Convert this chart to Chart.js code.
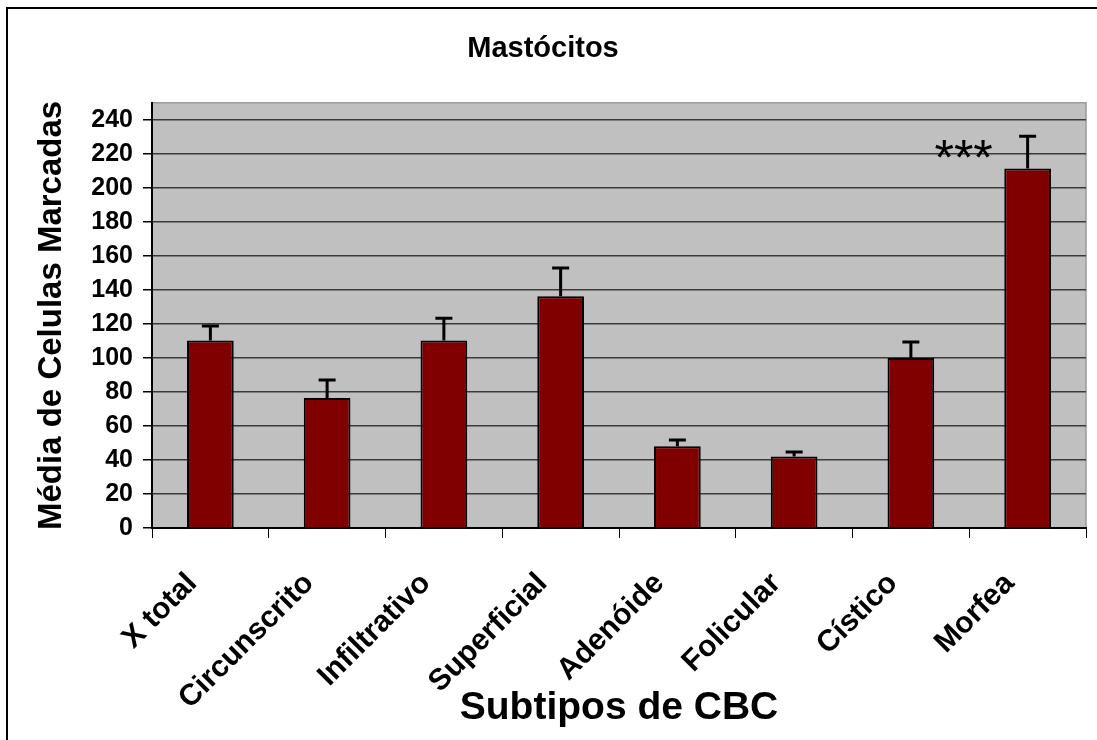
<!DOCTYPE html>
<html>
<head>
<meta charset="utf-8">
<script src="https://cdn.jsdelivr.net/npm/chart.js@4/dist/chart.umd.min.js"></script>
<style>
html,body{margin:0;padding:0;background:#fff;}
#wrap{width:1097px;height:740px;position:relative;}
</style>
</head>
<body>
<div id="wrap"><canvas id="mast-chart" width="1097" height="740"></canvas></div>
<script>
var categorias=['X total','Circunscrito','Infiltrativo','Superficial','Adenóide','Folicular','Cístico','Morfea'];
var medias=[110.3,76.4,110.3,136.2,48,42.1,99.9,211.4];
var erros=[8.5,10.6,13,16.6,3.7,2.6,9.4,19];
var yTicks=[0,20,40,60,80,100,120,140,160,180,200,220,240];
var titulo='Mastócitos';
var tituloY='Média de Celulas Marcadas';
var tituloX='Subtipos de CBC';
var marcaTexto='***';
var marcaIndice=7;

var fonte='"Liberation Sans", Arial, sans-serif';
Chart.defaults.font.family=fonte;
Chart.defaults.color='#000';

// fundo cinza da area do grafico + moldura externa
var fundo={
    id:'fundo',
    beforeDraw:function(chart)
    {
        let ctx=chart.ctx;
        let a=chart.chartArea;
        ctx.save();
        ctx.fillStyle='#fff';
        ctx.fillRect(0,0,chart.width,chart.height);
        ctx.strokeStyle='#000';
        ctx.lineWidth=2;
        ctx.beginPath();
        ctx.moveTo(7,chart.height);
        ctx.lineTo(7,8);
        ctx.lineTo(chart.width,8);
        ctx.stroke();
        ctx.fillStyle='#c0c0c0';
        ctx.fillRect(a.left,a.top,a.right-a.left,a.bottom-a.top);
        ctx.strokeStyle='#9a9a9a';
        ctx.lineWidth=1.5;
        ctx.strokeRect(a.left,a.top,a.right-a.left,a.bottom-a.top);
        ctx.restore();
    }
};

// barras de erro (so para cima) e os asteriscos
var barrasErro={
    id:'barrasErro',
    afterDatasetsDraw:function(chart)
    {
        let ctx=chart.ctx;
        let y=chart.scales.y;
        let meta=chart.getDatasetMeta(0);
        ctx.save();
        ctx.strokeStyle='#000';
        ctx.lineWidth=3;
        for(let i=0;i<meta.data.length;i++)
        {
            let bar=meta.data[i];
            let y0=y.getPixelForValue(medias[i]);
            let y1=y.getPixelForValue(medias[i]+erros[i]);
            ctx.beginPath();
            ctx.moveTo(bar.x,y0);
            ctx.lineTo(bar.x,y1);
            ctx.moveTo(bar.x-8.5,y1);
            ctx.lineTo(bar.x+8.5,y1);
            ctx.stroke();
        }
        let b=meta.data[marcaIndice];
        ctx.fillStyle='#000';
        ctx.font='50px '+fonte;
        ctx.textAlign='center';
        ctx.textBaseline='alphabetic';
        ctx.fillText(marcaTexto,b.x-64,b.y+7);
        ctx.restore();
    }
};

var grafico=new Chart(document.getElementById('mast-chart').getContext('2d'),{
    type:'bar',
    data:{
        labels:categorias,
        datasets:[
            {
                label:titulo,
                data:medias,
                backgroundColor:'#800000',
                borderColor:'#000',
                borderWidth:2,
                barPercentage:0.4,
                categoryPercentage:1
            }
        ]
    },
    options:{
        responsive:false,
        animation:false,
        layout:{padding:{left:0,right:11,top:0,bottom:0}},
        plugins:{
            legend:{display:false},
            tooltip:{enabled:false},
            title:{
                display:true,
                text:titulo,
                font:{size:29,weight:'bold',lineHeight:1.2},
                padding:{top:32,bottom:36},
                color:'#000'
            }
        },
        scales:{
            x:{
                grid:{display:true,drawOnChartArea:false,offset:true,tickLength:10,color:'#000',lineWidth:1},
                border:{display:true,color:'#000',width:2},
                ticks:{
                    autoSkip:false,
                    maxRotation:45,
                    minRotation:45,
                    padding:28,
                    labelOffset:-18,
                    font:{size:30,weight:'bold'},
                    color:'#000'
                },
                title:{
                    display:true,
                    text:tituloX,
                    font:{size:39,weight:'bold',lineHeight:1.2},
                    padding:{top:0,bottom:8},
                    color:'#000'
                },
                afterFit:function(scale){ scale.height=212; }
            },
            y:{
                min:0,
                max:250,
                ticks:{stepSize:20,padding:10,font:{size:25,weight:'bold'},color:'#000'},
                afterBuildTicks:function(scale)
                {
                    scale.ticks=yTicks.map(function(v){ return {value:v}; });
                },
                grid:{color:'#3a3a3a',lineWidth:1.5,tickLength:9,tickColor:'#000',tickWidth:1.5},
                border:{display:true,color:'#000',width:2},
                title:{
                    display:true,
                    text:tituloY,
                    font:{size:33,weight:'bold',lineHeight:1.2},
                    padding:{top:32,bottom:0},
                    color:'#000'
                },
                afterFit:function(scale){ scale.width=152; }
            }
        }
    },
    plugins:[fundo,barrasErro]
});
</script>
</body>
</html>
